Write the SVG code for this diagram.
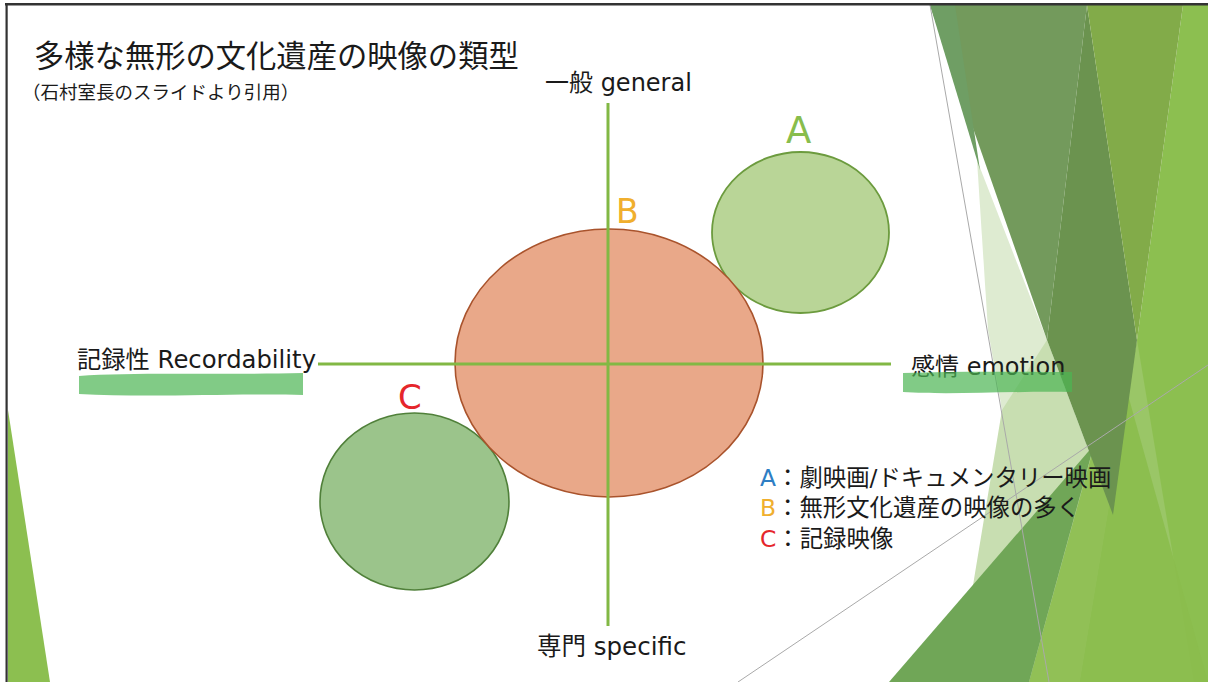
<svg xmlns="http://www.w3.org/2000/svg" width="1208" height="682" viewBox="0 0 1208 682">
  <defs>
    <style>
      .jp { font-family: "Noto Sans CJK JP", sans-serif; fill: #1a1a1a; }
      .mix { font-family: "DejaVu Sans", "Noto Sans CJK JP", sans-serif; fill: #1a1a1a; }
      .axis { stroke: #82b844; stroke-width: 3; fill: none; }
      .mark { fill: #4cb552; opacity: 0.7; }
      .facet-line { stroke: #a9a9a9; stroke-width: 1; fill: none; }
    </style>
  </defs>

  <rect x="0" y="0" width="1208" height="682" fill="#ffffff"/>

  <!-- decorative facets of the slide theme -->
  <g id="theme-facets">
    <polygon points="8,410 8,682 50,682" fill="#8cbf50"/>
    <polygon points="985,230 1047,340 1113,515 1100,682 957,682 1002,410" fill="#c8deb1"/>
    <polygon points="977,160 1047,340 1002,410 988,330" fill="#deebd1"/>
    <polygon points="1183,5 1208,5 1208,682 1080,682 1137,340" fill="#8cbf50"/>
    <polygon points="1137,340 1194,682 1080,682" fill="#9ac667"/>
    <polygon points="1118,359 1029,682 1208,682" fill="#8bbd4d" opacity="0.9"/>
    <polygon points="889,682 1094,445 1029,682" fill="#70a657"/>
    <polygon points="930,5 1087,5 1047,340" fill="#739a5c"/>
    <polygon points="930,5 955,5 980,170" fill="#6f9e64"/>
    <polygon points="1087,5 1137,340 1113,515 1047,340" fill="#6b934f"/>
    <polygon points="1087,5 1183,5 1137,340" fill="#82ab49"/>
    <line class="facet-line" x1="930" y1="5" x2="1049" y2="682"/>
    <line class="facet-line" x1="1208" y1="365" x2="738" y2="682" stroke="#bdbdbd"/>
  </g>

  <!-- outer frame -->
  <g id="frame" fill="#333333">
    <rect x="5" y="3" width="1203" height="2.5"/>
    <rect x="5.5" y="3" width="2.2" height="679"/>
  </g>

  <!-- heading -->
  <g id="title">
    <text class="jp" x="34" y="67" font-size="30.3">多様な無形の文化遺産の映像の類型</text>
    <text class="jp" x="22" y="99" font-size="18.5">（石村室長のスライドより引用）</text>
  </g>

  <!-- category bubbles -->
  <g id="node-C">
    <ellipse cx="414.5" cy="501.5" rx="94.5" ry="88.5" fill="#9bc48b" stroke="#50803a" stroke-width="1.6"/>
    <text x="398" y="409" font-family="DejaVu Sans, sans-serif" font-size="34" fill="#e5262b">C</text>
  </g>
  <g id="node-A">
    <ellipse cx="800.5" cy="232.5" rx="88.5" ry="80.5" fill="#b9d597" stroke="#6c9b3e" stroke-width="1.8"/>
    <text x="786" y="143" font-family="DejaVu Sans, sans-serif" font-size="37" fill="#88bd4c">A</text>
  </g>
  <g id="node-B">
    <ellipse cx="609" cy="363" rx="154" ry="134" fill="#e9a889" stroke="#a9532c" stroke-width="1.6"/>
    <text x="616" y="223" font-family="DejaVu Sans, sans-serif" font-size="33" fill="#f0af2e">B</text>
  </g>

  <!-- axes -->
  <g id="connectors">
    <line class="axis" x1="318" y1="364" x2="891" y2="364"/>
    <line class="axis" x1="608" y1="103" x2="608" y2="626"/>
  </g>

  <!-- axis labels with marker highlights -->
  <g id="label-general">
    <text class="mix" x="545" y="91" font-size="24">一般 general</text>
  </g>
  <g id="label-specific">
    <text class="mix" x="537" y="655" font-size="24.5">専門 specific</text>
  </g>
  <g id="label-recordability">
    <text class="mix" x="77" y="368" font-size="24.3">記録性 Recordability</text>
    <path class="mark" d="M79,376 C130,372 210,375 303,373 L303,395 C240,393 150,398 79,394 Z"/>
  </g>
  <g id="label-emotion">
    <text class="mix" x="911" y="375" font-size="24">感情 emotion</text>
    <path class="mark" d="M903,373 C960,371 1020,372 1072,372 L1072,392 C1010,391 950,395 903,392 Z"/>
  </g>

  <!-- key -->
  <g id="legend" class="mix" font-size="23.4">
    <text x="760" y="486"><tspan fill="#2e7ec4">A</tspan>：劇映画/ドキュメンタリー映画</text>
    <text x="760" y="516"><tspan fill="#f0af2e">B</tspan>：無形文化遺産の映像の多く</text>
    <text x="760" y="547"><tspan fill="#e5262b">C</tspan>：記録映像</text>
  </g>
</svg>
